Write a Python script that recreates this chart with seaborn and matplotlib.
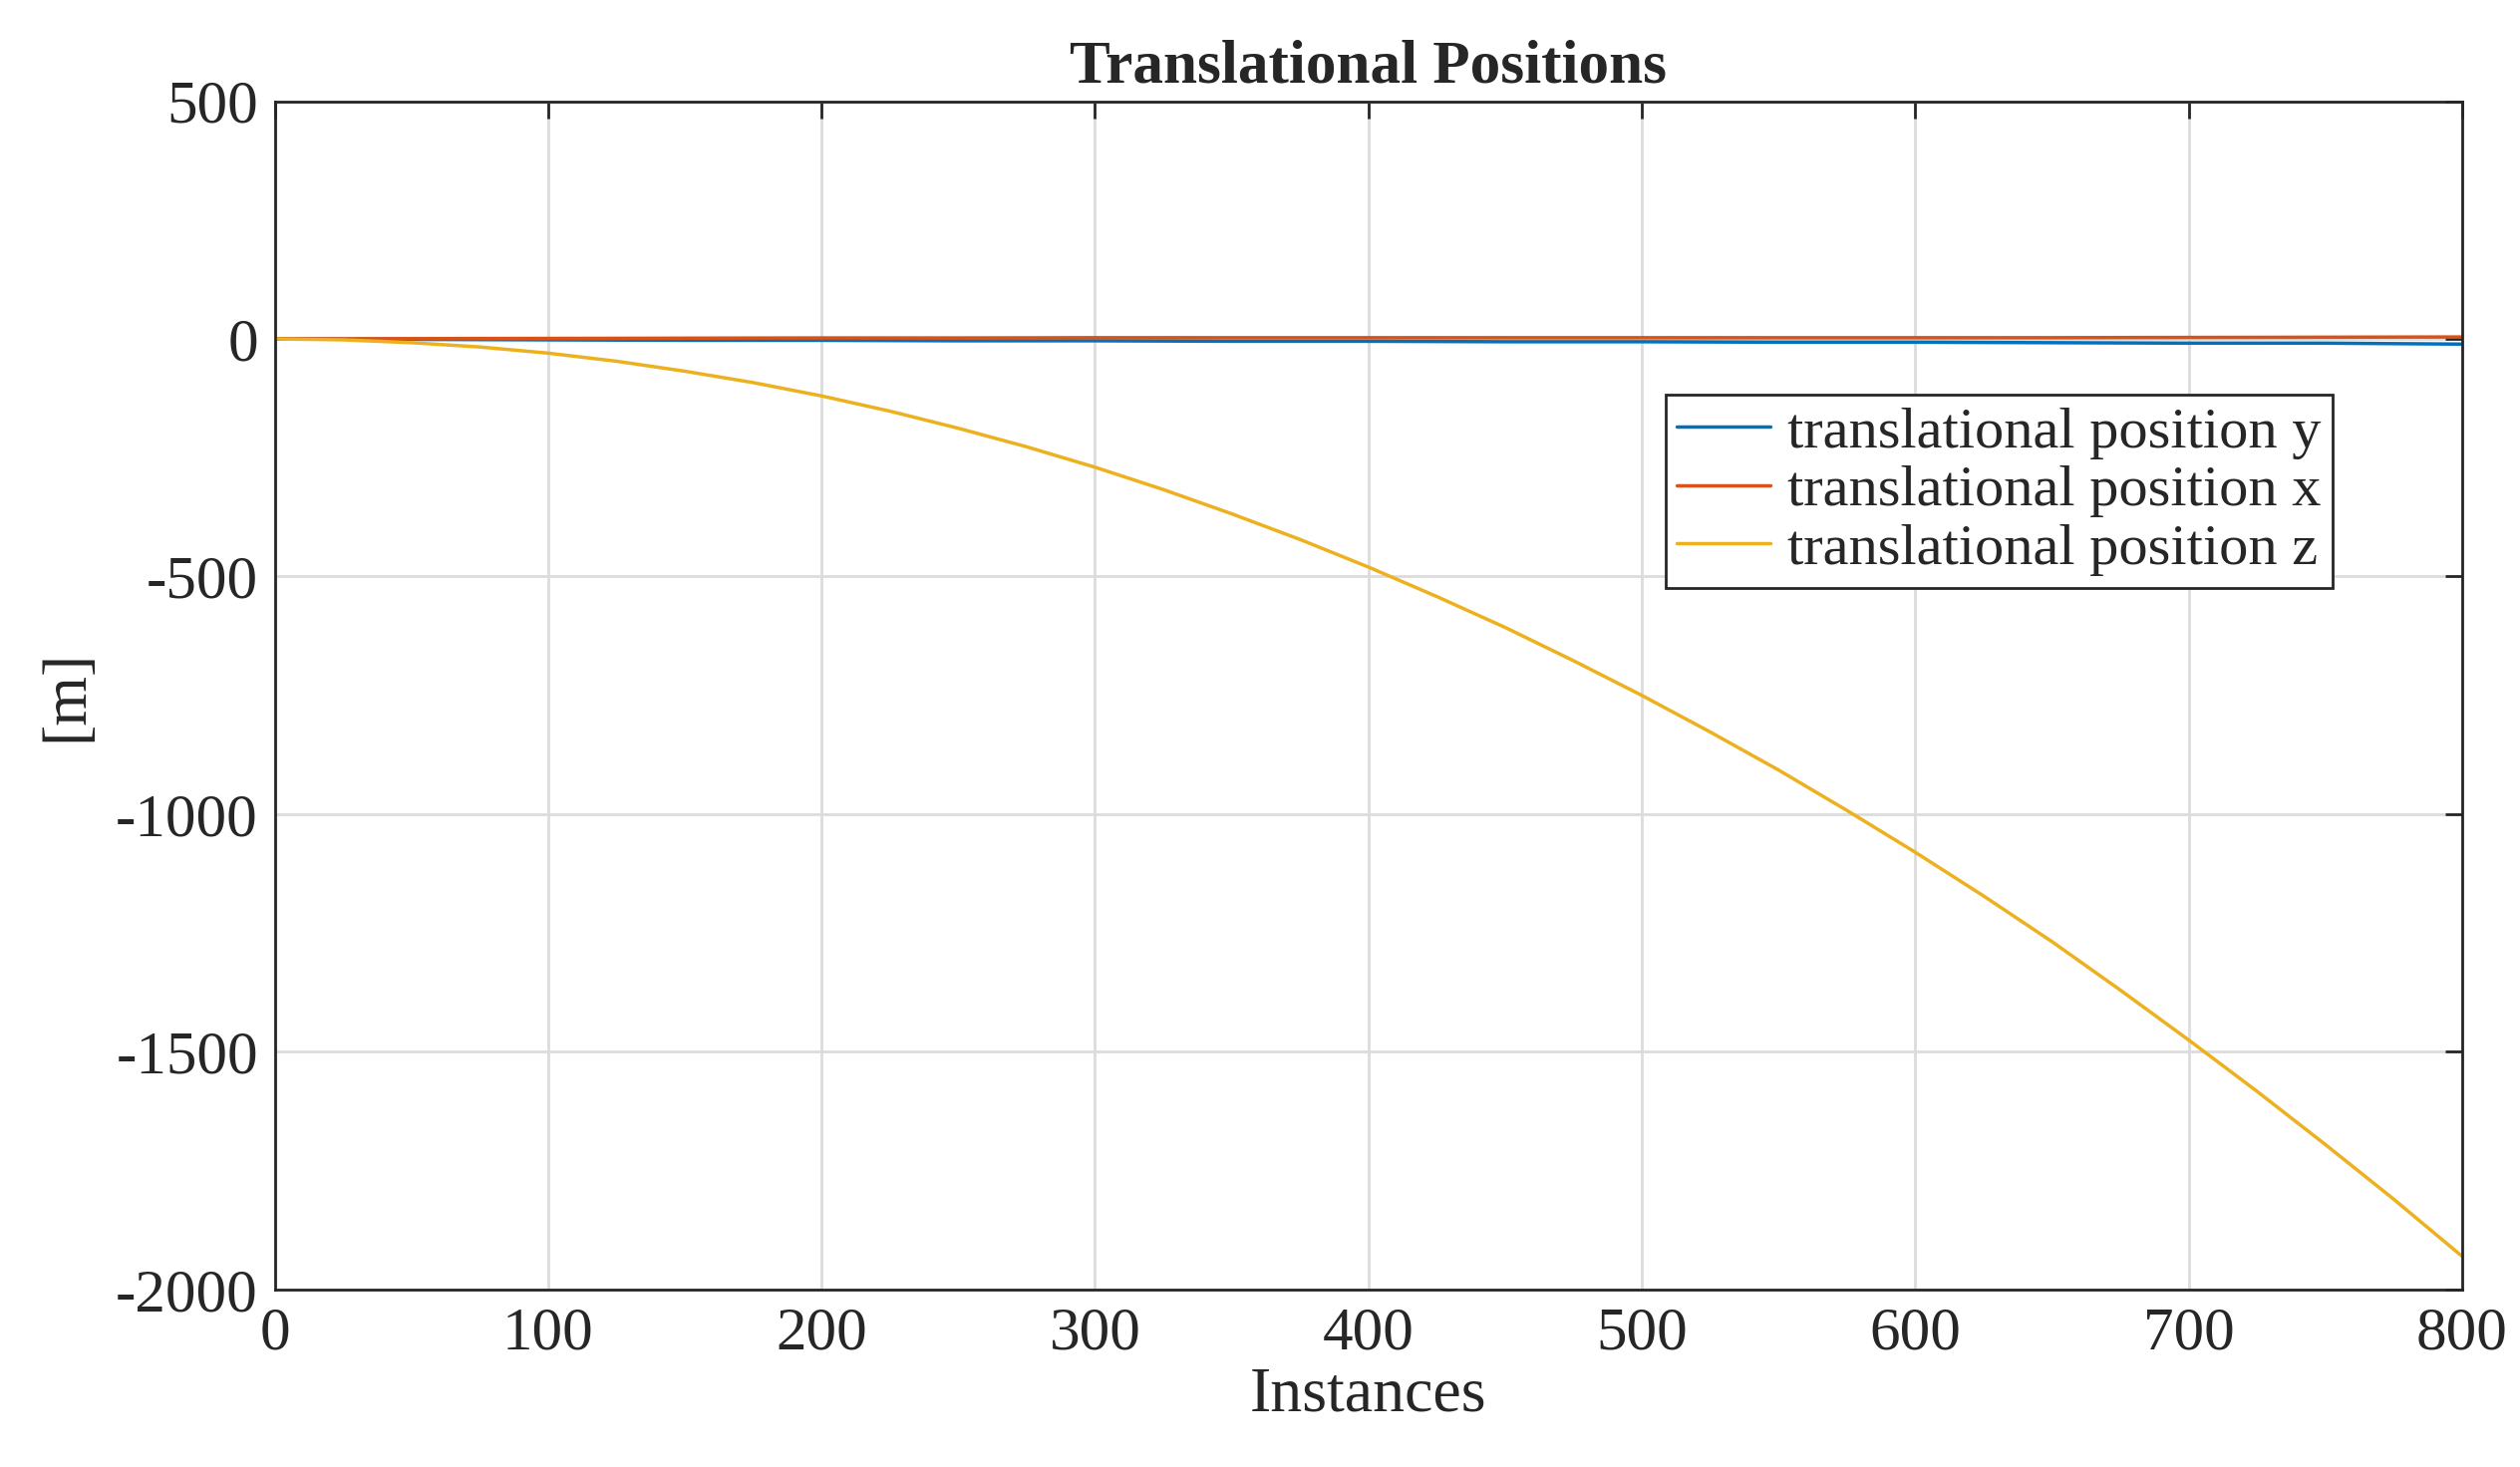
import numpy as np
import matplotlib
matplotlib.use("Agg")
import matplotlib.pyplot as plt
import seaborn as sns

# values
instances = [0, 25, 50, 75, 100, 125, 150, 175, 200, 225, 250, 275, 300, 325,
             350, 375, 400, 425, 450, 475, 500, 525, 550, 575, 600, 625, 650,
             675, 700, 725, 750, 775, 800]
pos_y = [0, -0.5, -1, -1.5, -2, -2.5, -3, -3, -3, -3.5, -4, -4, -4, -4.5,
         -5, -5, -5, -5.5, -6, -6, -6, -6.5, -7, -7, -7, -7.5, -8,
         -8.5, -9, -9, -9, -10, -11]
pos_x = [0, 0.2, 0.5, 0.8, 1, 1.2, 1.5, 1.8, 2, 2, 2, 2.2, 2.5, 2.5,
         2.5, 2.5, 2.5, 2.5, 2.5, 2.5, 2.5, 2.5, 2.5, 2.5, 2.5, 2.5, 2.5,
         2.8, 3, 3.2, 3.5, 3.8, 4]
pos_z = [0, -2, -8, -17, -30, -47, -68, -92, -120, -152, -188, -227, -270,
         -317, -368, -422, -480, -542, -607, -677, -750, -827, -907, -992,
         -1080, -1172, -1268, -1370, -1475, -1583, -1695, -1810, -1930]

sns.set_theme(style="whitegrid")
plt.rcParams["font.family"] = ["Liberation Serif", "DejaVu Serif"]
plt.rcParams["axes.unicode_minus"] = False

fig = plt.figure(figsize=(25.28, 14.72), dpi=100)
ax = fig.add_axes([0.109, 0.121, 0.868, 0.81])

sns.lineplot(x=instances, y=pos_y, ax=ax, color="#0072BD", lw=2.5,
             label="translational position y")
sns.lineplot(x=instances, y=pos_x, ax=ax, color="#D95319", lw=2.5,
             label="translational position x")
sns.lineplot(x=instances, y=pos_z, ax=ax, color="#EDB120", lw=2.5,
             label="translational position z")

ax.set_xlim(0, 800)
ax.set_ylim(-2000, 500)
ax.set_xticks(range(0, 801, 100))
ax.set_yticks(range(-2000, 501, 500))
ax.set_facecolor("white")
ax.grid(True, color="#dcdcdc", lw=2)
for s in ax.spines.values():
    s.set_color("#262626")
    s.set_linewidth(2)
ax.tick_params(direction="in", length=12, width=2, labelsize=44,
               colors="#262626", top=True, right=True, pad=12)
ax.set_xlabel("Instances", fontsize=46, color="#262626", labelpad=4)
ax.set_ylabel("[m]", fontsize=46, color="#262626", labelpad=14)
ax.set_title("Translational Positions", fontsize=44, fontweight="bold", pad=14)

leg = ax.legend(loc="upper right", bbox_to_anchor=(0.941, 0.753), fontsize=42,
                frameon=True, fancybox=False, framealpha=1, borderpad=0.2,
                handlelength=1.6, handletextpad=0.3, labelspacing=0.1,
                borderaxespad=0)
leg.get_frame().set_edgecolor("#262626")
leg.get_frame().set_linewidth(2)

fig.savefig("out.png", dpi=100, facecolor="white")
